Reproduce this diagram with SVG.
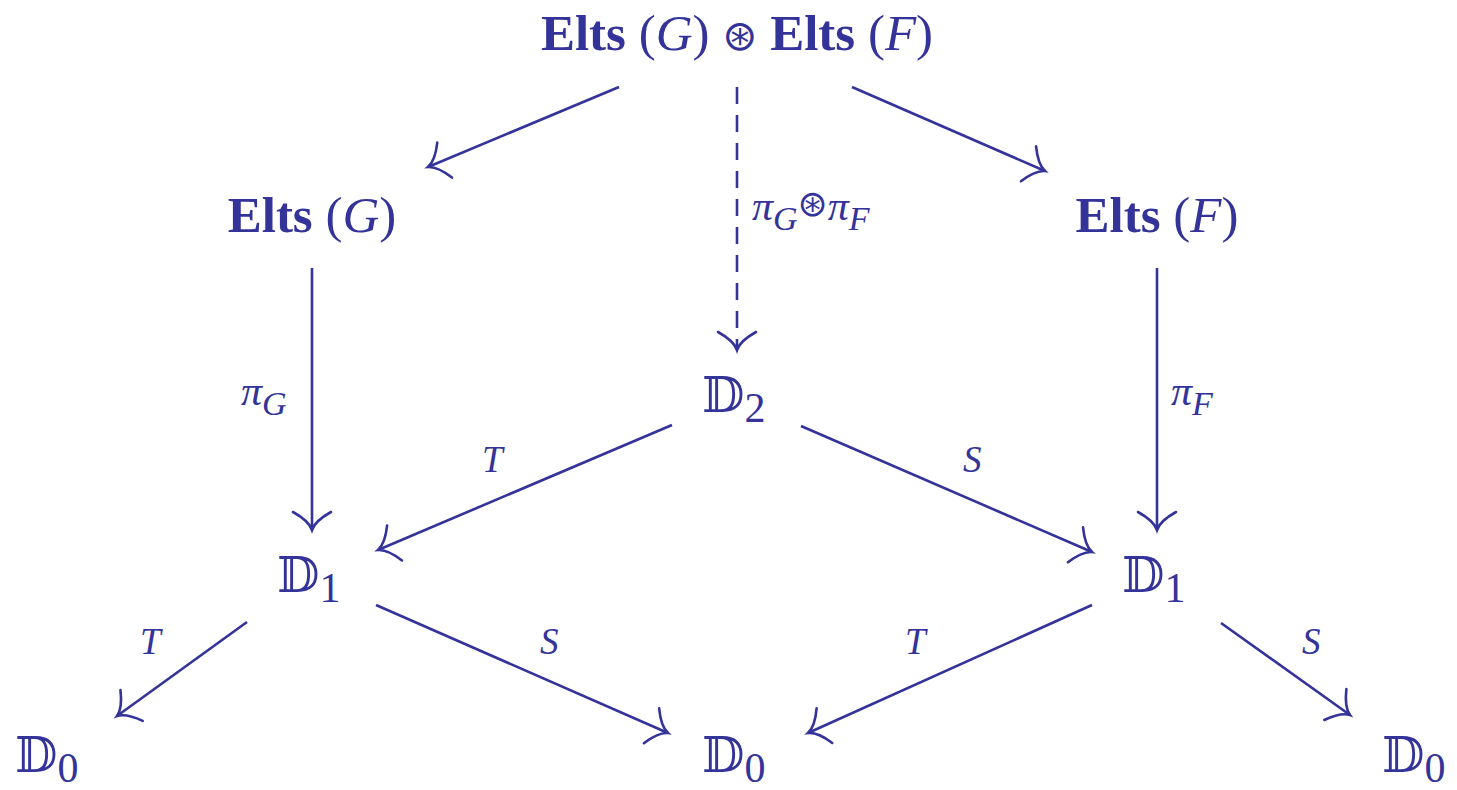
<svg xmlns="http://www.w3.org/2000/svg" width="1457" height="790" viewBox="0 0 1457 790">
<defs>
<marker id="to" markerUnits="userSpaceOnUse" markerWidth="40" markerHeight="44" viewBox="-22 -22 26 44" refX="0" refY="0" orient="auto">
<path d="M -18,-19 C -13,-10 -6,-2 0,0 C -6,2 -13,10 -18,19" fill="none" stroke="#333399" stroke-width="2.6" stroke-linecap="round"/>
</marker>
</defs>
<style>
text{fill:#333399;font-family:"Liberation Serif","DejaVu Serif",serif}
.n{font-size:51px}
.b{font-weight:bold;font-style:normal}
.i{font-style:italic}
.bb{font-size:49px;font-family:"DejaVu Serif","DejaVu Sans","Noto Sans",serif}
.sub{font-size:42px;font-family:"Liberation Serif",serif}
.lab{font-size:42px;font-style:italic}
.t{font-size:37px;font-style:italic}
.ls{font-size:34px}
.op{font-style:normal;font-family:"DejaVu Sans",sans-serif}
line{stroke:#333399;stroke-width:2.6;fill:none;marker-end:url(#to)}
.d{stroke-dasharray:17 11}
</style>
<g id="connectors">
<line x1="619" y1="87" x2="428" y2="167"/>
<line x1="852" y1="87" x2="1045" y2="171"/>
<line class="d" x1="737" y1="87" x2="737" y2="350"/>
<line x1="312" y1="268" x2="312" y2="530"/>
<line x1="1157" y1="268" x2="1157" y2="530"/>
<line x1="672" y1="425" x2="378" y2="550"/>
<line x1="801" y1="426" x2="1092" y2="552"/>
<line x1="247" y1="622" x2="117" y2="716"/>
<line x1="376" y1="605" x2="668" y2="733"/>
<line x1="1092" y1="605" x2="808" y2="733"/>
<line x1="1221" y1="623" x2="1350" y2="715"/>
<text class="lab" x="241" y="405">π<tspan class="ls" dy="10">G</tspan></text>
<text class="lab" x="1171" y="405">π<tspan class="ls" dy="10">F</tspan></text>
<text class="lab" x="752" y="220">π<tspan class="ls" dy="10">G</tspan><tspan class="op" font-size="36" dy="-14">⊛</tspan><tspan dy="4">π</tspan><tspan class="ls" dy="10">F</tspan></text>
<text class="t" x="482" y="472">T</text>
<text class="t" x="963" y="472">S</text>
<text class="t" x="140" y="654">T</text>
<text class="t" x="540" y="654">S</text>
<text class="t" x="905" y="654">T</text>
<text class="t" x="1302" y="654">S</text>
</g>
<g id="top"><text class="n" x="737" y="50" text-anchor="middle"><tspan class="b">Elts</tspan> (<tspan class="i">G</tspan>) <tspan class="op" font-size="42">⊛</tspan> <tspan class="b">Elts</tspan> (<tspan class="i">F</tspan>)</text></g>
<g id="eltsG"><text class="n" x="312" y="232" text-anchor="middle"><tspan class="b">Elts</tspan> (<tspan class="i">G</tspan>)</text></g>
<g id="eltsF"><text class="n" x="1157" y="232" text-anchor="middle"><tspan class="b">Elts</tspan> (<tspan class="i">F</tspan>)</text></g>
<g id="D2"><text x="702" y="412"><tspan class="bb">𝔻</tspan><tspan class="sub" dy="10">2</tspan></text></g>
<g id="D1L"><text x="277" y="592"><tspan class="bb">𝔻</tspan><tspan class="sub" dy="10">1</tspan></text></g>
<g id="D1R"><text x="1122" y="592"><tspan class="bb">𝔻</tspan><tspan class="sub" dy="10">1</tspan></text></g>
<g id="D0L"><text x="15" y="772"><tspan class="bb">𝔻</tspan><tspan class="sub" dy="10">0</tspan></text></g>
<g id="D0M"><text x="702" y="772"><tspan class="bb">𝔻</tspan><tspan class="sub" dy="10">0</tspan></text></g>
<g id="D0R"><text x="1382" y="772"><tspan class="bb">𝔻</tspan><tspan class="sub" dy="10">0</tspan></text></g>
</svg>
